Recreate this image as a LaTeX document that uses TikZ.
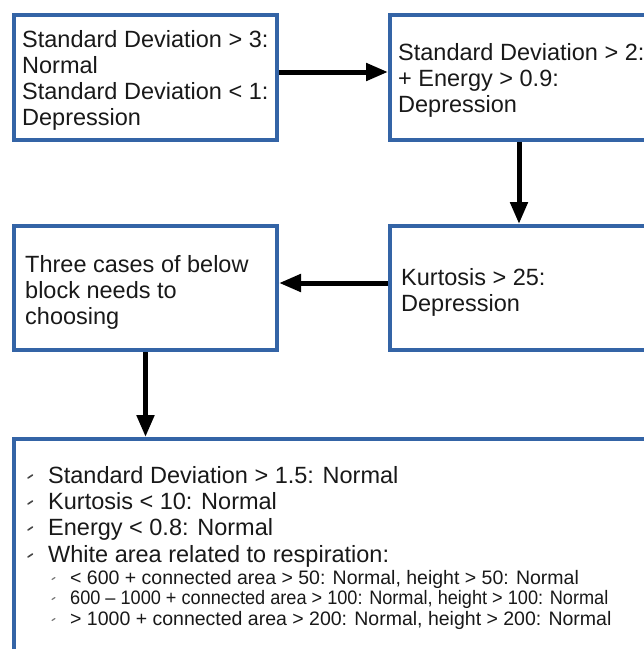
\documentclass[tikz,border=0pt]{standalone}
\usepackage{fontspec}
\usepackage{graphicx}
\setmainfont{Liberation Sans}
\usetikzlibrary{arrows.meta}
\definecolor{boxblue}{RGB}{52,100,166}
\definecolor{txt}{RGB}{25,25,25}
\begin{document}
\begin{tikzpicture}[x=1pt,y=-1pt,
  box/.style={draw=boxblue,line width=4pt,fill=white,inner sep=0pt},
  big/.style={anchor=base west,inner sep=0pt,text=txt,font=\fontsize{23.5}{26}\selectfont,align=left},
  small/.style={anchor=base west,inner sep=0pt,text=txt,font=\fontsize{19.5}{20.5}\selectfont},
  conn/.style={line width=5pt,-{Triangle[length=22pt,width=17pt]}},
  bul/.style={line width=1.6pt,draw=txt!80,line cap=round}]
\clip (0,0) rectangle (644,649);
\fill[white] (0,0) rectangle (644,649);
% boxes
\node[box,minimum width=263pt,minimum height=125pt] (A) at (145.5,77.5) {};
\node[box,minimum width=258pt,minimum height=125pt] (B) at (519,77.5) {};
\node[box,minimum width=263pt,minimum height=124pt] (C) at (145.5,288) {};
\node[box,minimum width=258pt,minimum height=124pt] (D) at (519,288) {};
\node[box,minimum width=634pt,minimum height=230pt] (E) at (331,554) {};
% texts (anchored at the baseline of their last line)
\node[big] (tA) at (22,125) {Standard Deviation > 3:\\Normal\\Standard Deviation < 1:\\Depression};
\node[big] (tB) at (398,112) {Standard Deviation > 2:\\+ Energy > 0.9:\\Depression};
\node[big] (tC) at (25,324) {Three cases of below\\block needs to\\choosing};
\node[big] (tD) at (401,311) {Kurtosis > 25:\\Depression};
\node[big] (e1) at (48,483) {Standard Deviation > 1.5: Normal};
\node[big] (e2) at (48,509) {Kurtosis < 10: Normal};
\node[big] (e3) at (48,535) {Energy < 0.8: Normal};
\node[big] (e4) at (48,562) {White area related to respiration:};
\node[small] (s1) at (70,584) {< 600 + connected area > 50: Normal, height > 50: Normal};
\node[small] (s2) at (70,604) {\scalebox{0.93}[1]{600 – 1000 + connected area > 100: Normal, height > 100: Normal}};
\node[small] (s3) at (70,625) {> 1000 + connected area > 200: Normal, height > 200: Normal};
% bullets
\foreach \y in {476,502,528,555} \draw[bul] (28,\y+2) -- (32.5,\y-1);
\foreach \y in {578,598,619} \draw[bul,line width=1.2pt,draw=txt!60] (52,\y+1.5) -- (55,\y-0.5);
% connectors
\draw[conn] ([yshift=5.5pt]A.east) -- ([yshift=5.5pt]B.west);
\draw[conn] (B.south) -- (D.north);
\draw[conn] ([yshift=5pt]D.west) -- ([yshift=5pt]C.east);
\draw[conn] (C.south) -- (C.south |- E.north);
\end{tikzpicture}
\end{document}
